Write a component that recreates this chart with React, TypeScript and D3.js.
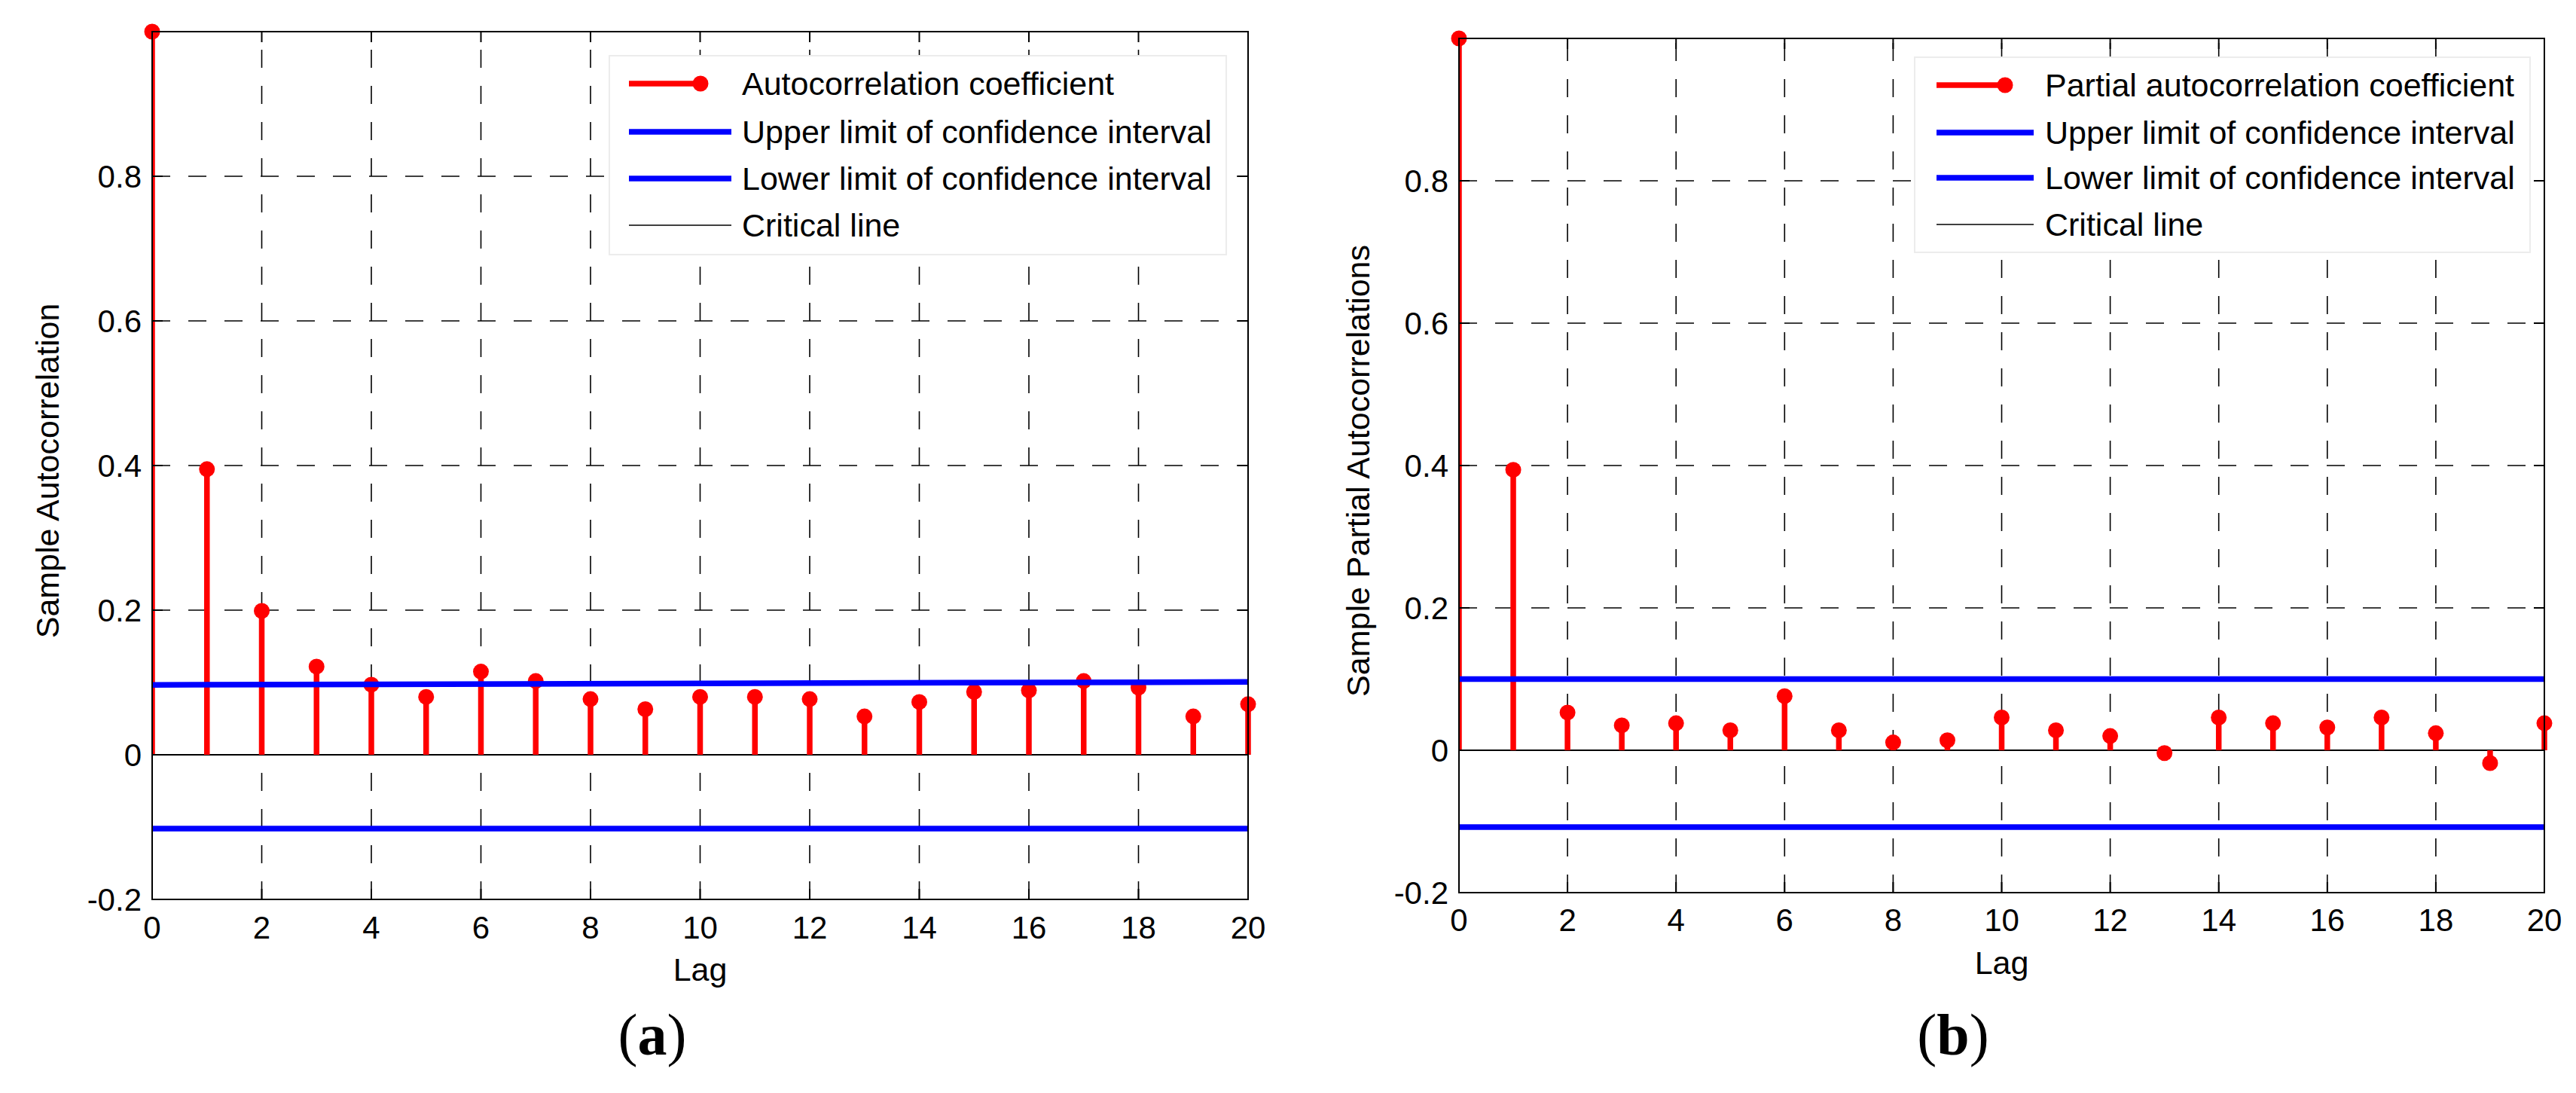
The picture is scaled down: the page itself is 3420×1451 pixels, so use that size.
import React from "react";
import * as d3 from "d3";

// ---------- data ----------
const LAGS = [0, 1, 2, 3, 4, 5, 6, 7, 8, 9, 10, 11, 12, 13, 14, 15, 16, 17, 18, 19, 20];
const ACF_VALUES = [1.0, 0.395, 0.199, 0.122, 0.097, 0.080, 0.115, 0.102, 0.077, 0.063, 0.080, 0.080, 0.077, 0.053, 0.073, 0.087, 0.089, 0.102, 0.093, 0.053, 0.070];
const PACF_VALUES = [1.0, 0.394, 0.053, 0.035, 0.038, 0.028, 0.076, 0.028, 0.011, 0.014, 0.046, 0.028, 0.020, -0.004, 0.046, 0.038, 0.032, 0.046, 0.024, -0.018, 0.038];
const BOUND_LAGS = [0, 20];
const ACF_UPPER = [0.0966, 0.1007];
const ACF_LOWER = [-0.102, -0.102];
const PACF_UPPER = [0.1, 0.1];
const PACF_LOWER = [-0.108, -0.108];
const X_TICKS = [0, 2, 4, 6, 8, 10, 12, 14, 16, 18, 20];
const Y_TICKS = [-0.2, 0, 0.2, 0.4, 0.6, 0.8];
const Y_TICK_LABELS = ["-0.2", "0", "0.2", "0.4", "0.6", "0.8"];
const Y_GRID = [0.2, 0.4, 0.6, 0.8];
const X_DOMAIN = [0, 20];
const Y_DOMAIN = [-0.2, 1.0];
const ACF_LEGEND = ["Autocorrelation coefficient", "Upper limit of confidence interval", "Lower limit of confidence interval", "Critical line"];
const PACF_LEGEND = ["Partial autocorrelation coefficient", "Upper limit of confidence interval", "Lower limit of confidence interval", "Critical line"];

const SANS = "'Liberation Sans', Arial, Helvetica, sans-serif";
const SERIF = "'Liberation Serif', 'Times New Roman', serif";
const RED = "#ff0000";
const BLUE = "#0000ff";

type Layout = {
  x0: number; x1: number; yTop: number; yBot: number;
  tickBase: number; lagY: number; ylabX: number; ylabY: number;
  capX: number; capY: number;
  lg: { x: number; y: number; w: number; h: number; s0: number; s1: number; sRed: number; tx: number; rows: number[] };
};

function Panel(props: {
  id: string; values: number[]; upper: number[]; lower: number[];
  ylabel: string; legend: string[]; caption: string; L: Layout;
}) {
  const { id, values, upper, lower, ylabel, legend, caption, L } = props;
  const x = d3.scaleLinear().domain(X_DOMAIN).range([L.x0, L.x1]);
  const y = d3.scaleLinear().domain(Y_DOMAIN).range([L.yBot, L.yTop]);
  const line = d3.line<number>().x((_, i) => x(BOUND_LAGS[i])).y((d) => y(d));
  const tickLen = 14;
  const fs = 42;
  return (
    <g>
      <defs>
        <clipPath id={`clip-${id}`}>
          <rect x={L.x0 - 1} y={L.yTop - 20} width={L.x1 - L.x0 + 20} height={L.yBot - L.yTop + 20} />
        </clipPath>
      </defs>
      {/* grid */}
      {X_TICKS.filter((t) => t > X_DOMAIN[0] && t < X_DOMAIN[1]).map((t) => (
        <line key={`gx${t}`} x1={x(t)} x2={x(t)} y1={L.yBot} y2={L.yTop} stroke="#000" strokeWidth={1.6} strokeDasharray="24 24" />
      ))}
      {Y_GRID.map((t) => (
        <line key={`gy${t}`} x1={L.x0} x2={L.x1} y1={y(t)} y2={y(t)} stroke="#000" strokeWidth={1.6} strokeDasharray="24 24" />
      ))}
      {/* critical line */}
      <line x1={x(0)} x2={x(20)} y1={y(0)} y2={y(0)} stroke="#000" strokeWidth={1.8} />
      {/* stems */}
      <g clipPath={`url(#clip-${id})`}>
        {values.map((v, i) => (
          <line key={`s${i}`} x1={x(LAGS[i])} x2={x(LAGS[i])} y1={y(0)} y2={y(v)} stroke={RED} strokeWidth={7.5} />
        ))}
      </g>
      {values.map((v, i) => (
        <circle key={`m${i}`} cx={x(LAGS[i])} cy={y(v)} r={10.5} fill={RED} />
      ))}
      {/* bounds */}
      <path d={line(upper) || ""} stroke={BLUE} strokeWidth={7.5} fill="none" />
      <path d={line(lower) || ""} stroke={BLUE} strokeWidth={7.5} fill="none" />
      {/* axes box */}
      <rect x={L.x0} y={L.yTop} width={L.x1 - L.x0} height={L.yBot - L.yTop} fill="none" stroke="#000" strokeWidth={2} />
      {X_TICKS.map((t) => (
        <g key={`xt${t}`}>
          <line x1={x(t)} x2={x(t)} y1={L.yBot} y2={L.yBot - tickLen} stroke="#000" strokeWidth={2} />
          <line x1={x(t)} x2={x(t)} y1={L.yTop} y2={L.yTop + tickLen} stroke="#000" strokeWidth={2} />
          <text x={x(t)} y={L.tickBase} textAnchor="middle" fontFamily={SANS} fontSize={fs} fill="#000">{t}</text>
        </g>
      ))}
      {Y_TICKS.map((t, i) => (
        <g key={`yt${t}`}>
          <line x1={L.x0} x2={L.x0 + tickLen} y1={y(t)} y2={y(t)} stroke="#000" strokeWidth={2} />
          <line x1={L.x1} x2={L.x1 - tickLen} y1={y(t)} y2={y(t)} stroke="#000" strokeWidth={2} />
          <text x={L.x0 - 14} y={y(t) + 15} textAnchor="end" fontFamily={SANS} fontSize={fs} fill="#000">{Y_TICK_LABELS[i]}</text>
        </g>
      ))}
      <text x={(L.x0 + L.x1) / 2} y={L.lagY} textAnchor="middle" fontFamily={SANS} fontSize={fs + 1} fill="#000">Lag</text>
      <text transform={`translate(${L.ylabX},${L.ylabY}) rotate(-90)`} textAnchor="middle" fontFamily={SANS} fontSize={fs + 1} fill="#000">{ylabel}</text>
      {/* legend */}
      <rect x={L.lg.x} y={L.lg.y} width={L.lg.w} height={L.lg.h} fill="#fff" stroke="#ececec" strokeWidth={2} />
      <line x1={L.lg.s0} x2={L.lg.sRed} y1={L.lg.rows[0]} y2={L.lg.rows[0]} stroke={RED} strokeWidth={7.5} />
      <circle cx={L.lg.sRed} cy={L.lg.rows[0]} r={10.5} fill={RED} />
      <line x1={L.lg.s0} x2={L.lg.s1} y1={L.lg.rows[1]} y2={L.lg.rows[1]} stroke={BLUE} strokeWidth={7.5} />
      <line x1={L.lg.s0} x2={L.lg.s1} y1={L.lg.rows[2]} y2={L.lg.rows[2]} stroke={BLUE} strokeWidth={7.5} />
      <line x1={L.lg.s0} x2={L.lg.s1} y1={L.lg.rows[3]} y2={L.lg.rows[3]} stroke="#000" strokeWidth={1.6} />
      {legend.map((s, i) => (
        <text key={`lt${i}`} x={L.lg.tx} y={L.lg.rows[i] + 15} fontFamily={SANS} fontSize={43} fill="#000">{s}</text>
      ))}
      {/* caption */}
      <text x={L.capX} y={L.capY} textAnchor="middle" fontFamily={SERIF} fontSize={78} fill="#000">
        (<tspan fontWeight="bold">{caption}</tspan>)
      </text>
    </g>
  );
}

const LEFT: Layout = {
  x0: 202, x1: 1657, yTop: 42, yBot: 1194,
  tickBase: 1246, lagY: 1302, ylabX: 78, ylabY: 625,
  capX: 866, capY: 1400,
  lg: { x: 809, y: 74, w: 819, h: 264, s0: 835, s1: 971, sRed: 930, tx: 985, rows: [111, 175, 237, 299] },
};
const RIGHT: Layout = {
  x0: 1937, x1: 3378, yTop: 51, yBot: 1185,
  tickBase: 1236, lagY: 1293, ylabX: 1818, ylabY: 625,
  capX: 2593, capY: 1400,
  lg: { x: 2542, y: 76, w: 817, h: 259, s0: 2571, s1: 2700, sRed: 2662, tx: 2715, rows: [113, 176, 236, 298] },
};

export default function App() {
  return (
    <div>
      <style>{"html,body{margin:0;padding:0;overflow:hidden;background:#fff}"}</style>
      <svg width={3420} height={1451} viewBox="0 0 3420 1451" style={{ display: "block" }}>
        <rect width={3420} height={1451} fill="#fff" />
        <Panel id="acf" values={ACF_VALUES} upper={ACF_UPPER} lower={ACF_LOWER} ylabel="Sample Autocorrelation" legend={ACF_LEGEND} caption="a" L={LEFT} />
        <Panel id="pacf" values={PACF_VALUES} upper={PACF_UPPER} lower={PACF_LOWER} ylabel="Sample Partial Autocorrelations" legend={PACF_LEGEND} caption="b" L={RIGHT} />
      </svg>
    </div>
  );
}
